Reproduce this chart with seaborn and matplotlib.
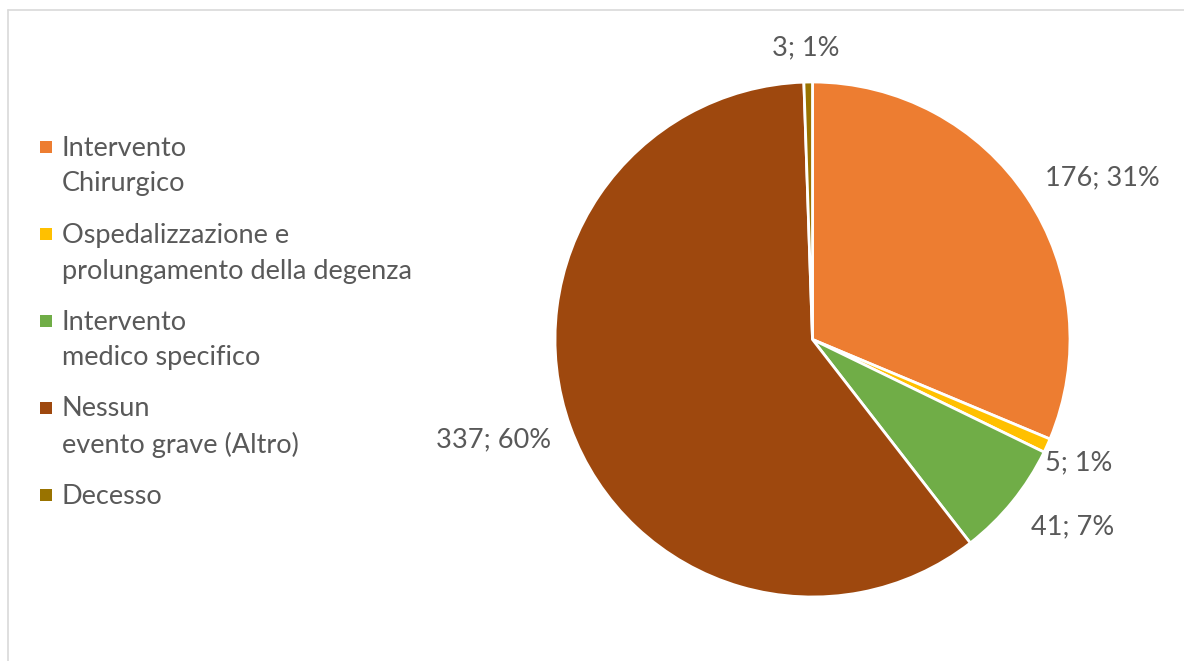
import matplotlib
matplotlib.use("Agg")
import matplotlib.pyplot as plt
from matplotlib.patches import Rectangle
from matplotlib.lines import Line2D
import numpy as np
import seaborn as sns

# Outcome categories and counts
categories = [
    "Intervento\nChirurgico",
    "Ospedalizzazione e\nprolungamento della degenza",
    "Intervento\nmedico specifico",
    "Nessun\nevento grave (Altro)",
    "Decesso",
]
counts = [176, 5, 41, 337, 3]

colors = ["#ED7D31", "#FFC000", "#70AD47", "#9E480E", "#997300"]

sns.set_theme(style="white")
plt.rcParams["font.family"] = ["Lato", "DejaVu Sans"]
TEXT = "#595959"
FS = 19.5

W, H = 1184, 661
fig = plt.figure(figsize=(W / 100, H / 100), dpi=100)
fig.patch.set_facecolor("white")

# thin frame (left and top edges visible)
fig.add_artist(Line2D([8 / W, 8 / W], [0, 1 - 10 / H], transform=fig.transFigure,
                      color="#D9D9D9", lw=1.2))
fig.add_artist(Line2D([8 / W, 1], [1 - 10 / H, 1 - 10 / H], transform=fig.transFigure,
                      color="#D9D9D9", lw=1.2))

# pie axes
cx, cy, r = 812.5, 339.5, 257.5
ax = fig.add_axes([(cx - r) / W, (H - cy - r) / H, 2 * r / W, 2 * r / H])
wedges, _ = ax.pie(counts, colors=sns.color_palette(colors), startangle=90,
                   counterclock=False,
                   wedgeprops=dict(edgecolor="white", linewidth=2.0))
ax.set_xlim(-1, 1)
ax.set_ylim(-1, 1)
ax.set_aspect("equal")
ax.axis("off")

# data labels: radial distance and small angular nudge per slice
label_dist = [1.29, 1.14, 1.243, 1.297, 1.132]
label_nudge = [-4.5, -0.5, 3.3, -2.4, 0.3]
total = sum(counts)
for w, v, d, n in zip(wedges, counts, label_dist, label_nudge):
    th = np.deg2rad((w.theta1 + w.theta2) / 2 + n)
    ax.text(d * np.cos(th), d * np.sin(th), f"{v}; {round(100 * v / total)}%",
            ha="center", va="center", fontsize=FS, color=TEXT, clip_on=False)

# legend drawn at the left
sq = 12
y = 147
for name, c in zip(categories, colors):
    fig.add_artist(Rectangle((40 / W, 1 - (y + sq / 2) / H), sq / W, sq / H,
                             transform=fig.transFigure, facecolor=c, edgecolor="none"))
    lines = name.split("\n")
    for k, ln in enumerate(lines):
        fig.text(62 / W, 1 - (y + 8.5 + 36 * k) / H, ln, fontsize=FS, color=TEXT,
                 ha="left", va="baseline")
    y += 87

fig.savefig("out.png", dpi=100)
